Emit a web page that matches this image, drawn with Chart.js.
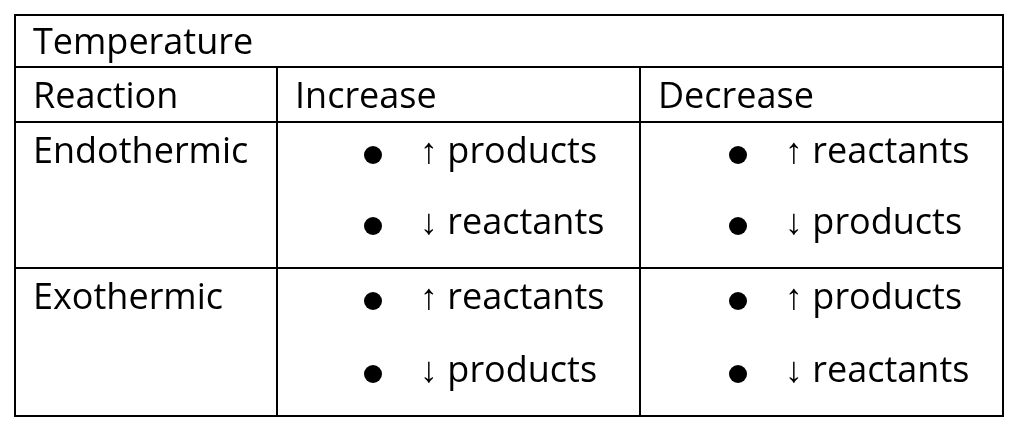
<!DOCTYPE html>
<html><head><meta charset="utf-8">
<script src="https://cdn.jsdelivr.net/npm/chart.js@4"></script>
<style>html,body{margin:0;padding:0;background:#fff}#w{width:1024px;height:432px}</style>
</head><body><div id="w"><canvas id="c"></canvas></div>
<script>
const title = "Temperature";
const headers = ["Reaction", "Increase", "Decrease"];
const reactions = ["Endothermic", "Exothermic"];
const increaseEffects = [["↑ products", "↓ reactants"], ["↑ reactants", "↓ products"]];
const decreaseEffects = [["↑ reactants", "↓ products"], ["↑ products", "↓ reactants"]];

const tablePlugin = {
  id: 'table',
  afterDraw(chart) {
    const ctx = chart.ctx;
    const L = 15, R = 1003, T = 15, B = 416;
    const y1 = 67, y2 = 122, y3 = 268, c1 = 277, c2 = 640;
    ctx.save();
    ctx.strokeStyle = '#000'; ctx.lineWidth = 2;
    ctx.strokeRect(L, T, R - L, B - T);
    ctx.beginPath();
    ctx.moveTo(L, y1); ctx.lineTo(R, y1);
    ctx.moveTo(L, y2); ctx.lineTo(R, y2);
    ctx.moveTo(L, y3); ctx.lineTo(R, y3);
    ctx.moveTo(c1, y1); ctx.lineTo(c1, B);
    ctx.moveTo(c2, y1); ctx.lineTo(c2, B);
    ctx.stroke();
    ctx.fillStyle = '#000';
    ctx.font = '36px "Open Sans", sans-serif';
    ctx.textBaseline = 'middle';
    ctx.textAlign = 'left';
    ctx.fillText(title, 33, 44);
    ctx.fillText(headers[0], 33, 98);
    ctx.fillText(headers[1], 295, 98);
    ctx.fillText(headers[2], 658, 98);
    const rowY = [[153, 224], [299, 372]];
    reactions.forEach((r, i) => {
      ctx.fillText(r, 33, rowY[i][0]);
      [increaseEffects[i], decreaseEffects[i]].forEach((eff, j) => {
        const bx = j === 0 ? 373 : 738, tx = j === 0 ? 420 : 785;
        eff.forEach((t, k) => {
          const y = rowY[i][k];
          ctx.beginPath(); ctx.arc(bx, y + 2, 9, 0, Math.PI * 2); ctx.fill();
          ctx.fillText(t, tx, y);
        });
      });
    });
    ctx.restore();
  }
};

new Chart(document.getElementById('c'), {
  type: 'bar',
  data: { labels: reactions, datasets: [{ data: [], backgroundColor: 'transparent' }] },
  options: {
    responsive: true, maintainAspectRatio: false, animation: false,
    plugins: { legend: { display: false }, tooltip: { enabled: false } },
    scales: { x: { display: false }, y: { display: false } }
  },
  plugins: [tablePlugin]
});
</script></body></html>
